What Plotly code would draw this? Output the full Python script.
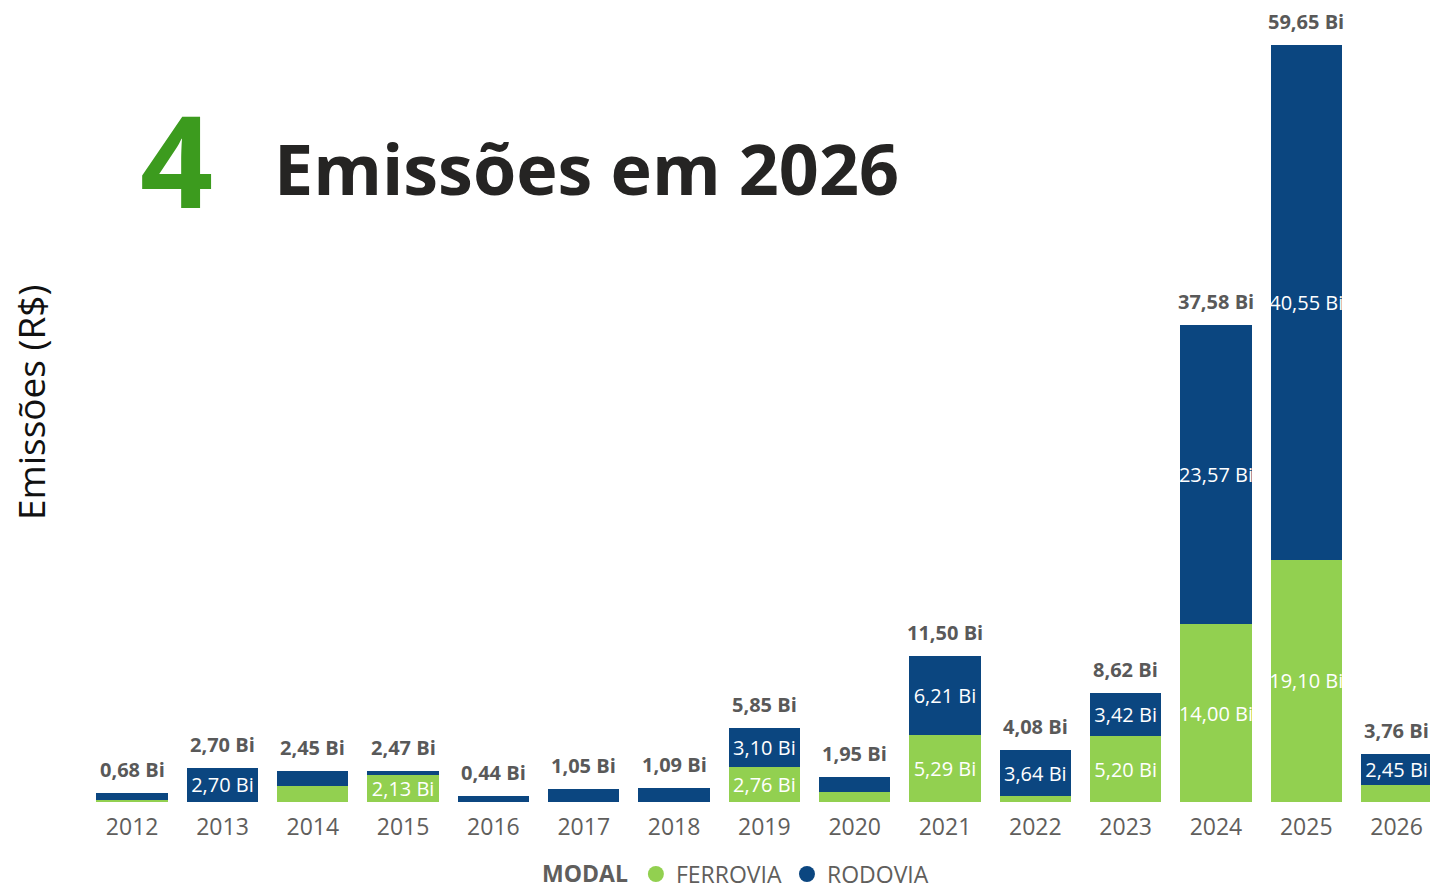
import plotly.graph_objects as go

years = ["2012", "2013", "2014", "2015", "2016", "2017", "2018", "2019",
         "2020", "2021", "2022", "2023", "2024", "2025", "2026"]
ferrovia = [0.15, 0.00, 1.30, 2.13, 0.00, 0.00, 0.00, 2.76,
            0.77, 5.29, 0.44, 5.20, 14.00, 19.10, 1.31]
rodovia = [0.53, 2.70, 1.15, 0.34, 0.44, 1.05, 1.09, 3.10,
           1.18, 6.21, 3.64, 3.42, 23.57, 40.55, 2.45]
totals = [0.68, 2.70, 2.45, 2.47, 0.44, 1.05, 1.09, 5.85,
          1.95, 11.50, 4.08, 8.62, 37.58, 59.65, 3.76]

GREEN = "#92D050"
BLUE = "#0B4680"
FONT = "Open Sans"


def fmt(v):
    return f"{v:.2f}".replace(".", ",") + " Bi"


def inner(vals):
    return [fmt(v) if v >= 2.0 else "" for v in vals]


fig = go.Figure()
fig.add_trace(go.Bar(
    x=years, y=ferrovia, name="FERROVIA", marker_color=GREEN,
    text=inner(ferrovia), textposition="inside", insidetextanchor="middle",
    constraintext="none", textangle=0,
    textfont=dict(color="white", size=20, family=FONT),
    showlegend=False, marker_line_width=0,
))
fig.add_trace(go.Bar(
    x=years, y=rodovia, name="RODOVIA", marker_color=BLUE,
    text=inner(rodovia), textposition="inside", insidetextanchor="middle",
    constraintext="none", textangle=0,
    textfont=dict(color="white", size=20, family=FONT),
    showlegend=False, marker_line_width=0,
))
# legend entries with circle markers
for name, col in [("FERROVIA", GREEN), ("RODOVIA", BLUE)]:
    fig.add_trace(go.Scatter(
        x=[None], y=[None], mode="markers", name=name,
        marker=dict(color=col, size=20, symbol="circle"),
    ))

# total labels above each stacked bar (category index on the x axis)
for i, t in enumerate(totals):
    fig.add_annotation(
        xref="x", yref="y", x=i, y=t, text=f"<b>{fmt(t)}</b>",
        showarrow=False, xanchor="center", yanchor="bottom", yshift=8,
        font=dict(size=20, color="#595959", family=FONT),
    )

fig.add_annotation(
    xref="paper", yref="paper", x=-0.0424, y=0.505,
    xanchor="center", yanchor="middle",
    text="Emissões (R$)", textangle=-90, showarrow=False,
    font=dict(size=37, color="#111111", family=FONT),
)
fig.add_annotation(
    xref="paper", yref="paper", x=0.067, y=0.813,
    xanchor="center", yanchor="middle",
    text="<b>4</b>", showarrow=False,
    font=dict(size=128, color="#3C9B1E", family=FONT),
)
fig.add_annotation(
    xref="paper", yref="paper", x=0.1378, y=0.801,
    xanchor="left", yanchor="middle",
    text="<b>Emissões em 2026</b>", showarrow=False,
    font=dict(size=70, color="#252423", family=FONT),
)

fig.update_layout(
    width=1430, height=892,
    barmode="stack", bargap=0.21,
    plot_bgcolor="white", paper_bgcolor="white",
    margin=dict(l=87, r=0, t=10, b=90, autoexpand=False),
    font=dict(family=FONT),
    xaxis=dict(
        type="category", range=[-0.5, 14.37], showgrid=False, showline=False,
        ticks="", automargin=False, ticklabelstandoff=9,
        tickfont=dict(size=23, color="#605E5C", family=FONT),
    ),
    yaxis=dict(
        range=[0, 62.41], showgrid=False, showticklabels=False,
        zeroline=False, showline=False, automargin=False,
    ),
    legend=dict(
        orientation="h", x=0.484, xanchor="center", y=-0.091, yanchor="middle",
        traceorder="normal",
        title=dict(text="<b>MODAL</b>", font=dict(size=23, color="#605E5C", family=FONT)),
        font=dict(size=23, color="#605E5C", family=FONT),
        itemwidth=30,
    ),
    showlegend=True,
)

fig.write_html(
    "out.html",
    config={"displayModeBar": False},
    post_script="document.body.style.margin='0';document.body.style.overflow='hidden';",
)
